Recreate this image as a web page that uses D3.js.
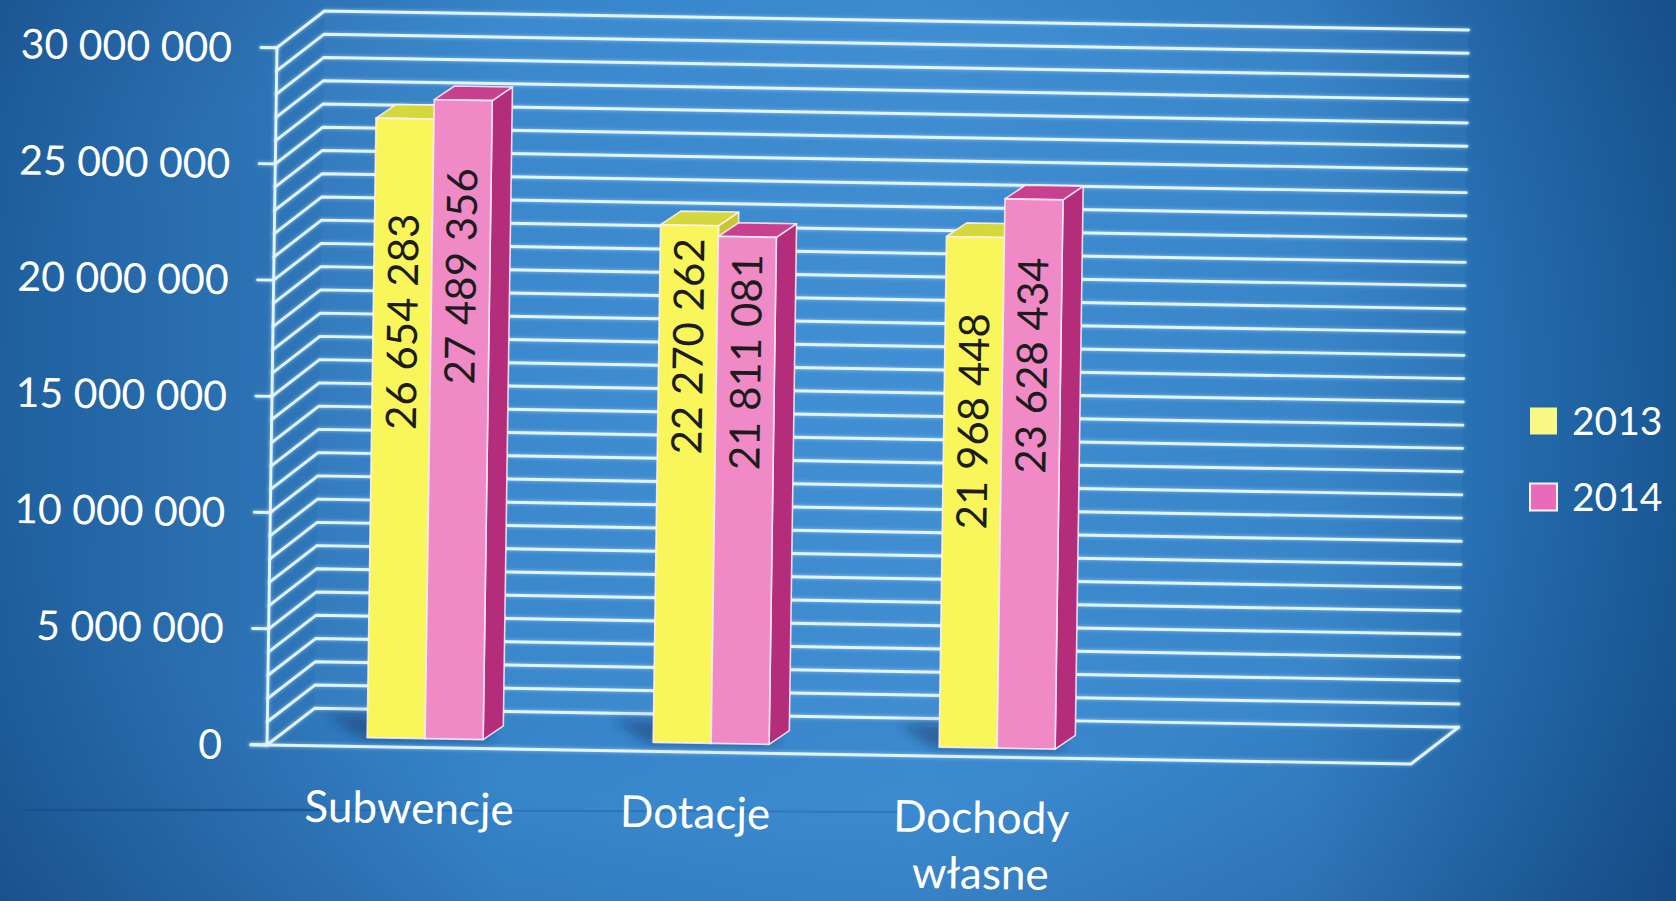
<!DOCTYPE html>
<html>
<head>
<meta charset="utf-8">
<script src="https://cdn.jsdelivr.net/npm/d3@7/dist/d3.min.js"></script>
<style>
  html, body { margin: 0; padding: 0; background: #2a72b4; }
  svg { display: block; }
  text { font-family: Lato, "Open Sans", sans-serif; }
</style>
</head>
<body>
<svg id="chart" width="1676" height="901"></svg>
<script>
// ---------------- DATA ----------------
const categories = ["Subwencje", "Dotacje", "Dochody własne", ""];
const seriesNames = ["2013", "2014"];
const values2013 = [26654283, 22270262, 21968448];
const values2014 = [27489356, 21811081, 23628434];
const yTickValues = [0, 5000000, 10000000, 15000000, 20000000, 25000000, 30000000];

// ---------------- LAYOUT ----------------
const W = 1676, H = 901;
const frontLeft = 267, frontRight = 1411;
const yBottom = 745, yTop = 47.7;
const depth = { dx: 47, dy: -37.5 };        // floor / wall depth
const barFront = { dx: 15, dy: -9 };        // bar front face offset into depth
const barDepth = { dx: 20, dy: -14 };       // bar thickness in depth
const barW = 58;
const labelGap = [[95, 13, 76], [68, 17, 58]]; // text start below bar top (px)
const skewX = 0.0143, skewY = 0.0166;

const colors = {
  y: { front: "#f8f65a", top: "#d4d83c", side: "#c9c634" },
  p: { front: "#f08ac6", top: "#c8408e", side: "#b42d7b" }
};
const gridColor = "#e2f5ff";

const fmt = d3.formatLocale({ decimal: ",", thousands: " ", grouping: [3], currency: ["", ""] }).format(",");

const svg = d3.select("#chart");
const defs = svg.append("defs");

// background
const bg = defs.append("linearGradient").attr("id", "bgH").attr("x1", 0).attr("x2", 1).attr("y1", 0).attr("y2", 0);
[[0, "#1f5f9e"], [0.12, "#2a6fb0"], [0.3, "#3785ca"], [0.55, "#3c8ad0"], [0.78, "#3582c6"], [0.88, "#2770b2"], [1, "#1a5b99"]]
  .forEach(([o, c]) => bg.append("stop").attr("offset", o).attr("stop-color", c));
const rad = defs.append("radialGradient").attr("id", "bgR").attr("cx", "45%").attr("cy", "45%").attr("r", "75%");
[[0, "rgba(80,160,235,0.10)"], [0.6, "rgba(20,60,120,0)"], [1, "rgba(10,40,90,0.30)"]]
  .forEach(([o, c]) => rad.append("stop").attr("offset", o).attr("stop-color", c));
const blur = defs.append("filter").attr("id", "blur").attr("x", "-50%").attr("y", "-50%").attr("width", "200%").attr("height", "200%");
blur.append("feGaussianBlur").attr("stdDeviation", 6);
const glow = defs.append("filter").attr("id", "glow").attr("x", "-5%").attr("y", "-5%").attr("width", "110%").attr("height", "110%");
glow.append("feGaussianBlur").attr("stdDeviation", 1.5);

svg.append("rect").attr("width", W).attr("height", H).attr("fill", "url(#bgH)");
svg.append("rect").attr("width", W).attr("height", H).attr("fill", "url(#bgR)");
// projection artifact line
svg.append("line").attr("x1", 22).attr("x2", 320).attr("y1", 810).attr("y2", 810)
  .attr("stroke", "#1a4f8e").attr("stroke-width", 2.5).attr("opacity", 0.8);
svg.append("line").attr("x1", 320).attr("x2", 900).attr("y1", 810).attr("y2", 812)
  .attr("stroke", "#1a4f8e").attr("stroke-width", 2).attr("opacity", 0.3);

// skewed chart group (photo perspective)
const g = svg.append("g")
  .attr("transform", `matrix(1,${skewY},${-skewX},1,${skewX * yBottom},${-skewY * frontLeft})`);

const x = d3.scaleBand().domain(categories).range([frontLeft, frontRight]).padding(0);
const y = d3.scaleLinear().domain([0, 30000000]).range([yBottom, yTop]);
const gridValues = d3.range(0, 30000001, 1000000);

// back wall fill (slightly lighter)
g.append("path")
  .attr("d", `M${frontLeft + depth.dx},${y(30000000) + depth.dy}H${frontRight + depth.dx}V${yBottom + depth.dy}H${frontLeft + depth.dx}Z`)
  .attr("fill", "rgba(110,185,250,0.08)");

function drawGrid(parent, width, color, filter) {
  const gg = parent.append("g").attr("fill", "none").attr("stroke", color).attr("stroke-width", width)
    .attr("stroke-linejoin", "round").attr("stroke-linecap", "round");
  if (filter) gg.attr("filter", filter);
  gg.selectAll("path.grid").data(gridValues).join("path").attr("class", "grid")
    .attr("d", v => `M${frontLeft},${y(v)}L${frontLeft + depth.dx},${y(v) + depth.dy}H${frontRight + depth.dx}`);
  gg.append("line").attr("x1", frontLeft).attr("x2", frontLeft).attr("y1", y(0)).attr("y2", y(30000000));
  gg.selectAll("line.tick").data(yTickValues).join("line").attr("class", "tick")
    .attr("x1", frontLeft - 16).attr("x2", frontLeft).attr("y1", v => y(v)).attr("y2", v => y(v));
  gg.append("path")
    .attr("d", `M${frontLeft - 16},${y(0)}H${frontRight}L${frontRight + depth.dx},${y(0) + depth.dy}`);
}
drawGrid(g, 5, "rgba(200,235,255,0.35)", "url(#glow)");
drawGrid(g, 2.9, gridColor, null);

// tick labels
g.append("g").selectAll("text").data(yTickValues).join("text")
  .attr("x", 222).attr("y", v => y(v)).attr("dy", "0.36em")
  .attr("text-anchor", "end").attr("fill", "#ffffff").attr("font-size", 41)
  .text(v => fmt(v));

// category labels
const catG = g.append("g");
categories.filter(c => c).forEach(c => {
  const words = c === "Dochody własne" ? ["Dochody", "własne"] : [c];
  const t = catG.append("text").attr("x", x(c) + x.bandwidth() / 2).attr("y", 821)
    .attr("text-anchor", "middle").attr("fill", "#ffffff").attr("font-size", 44);
  words.forEach((w, i) => t.append("tspan").attr("x", x(c) + x.bandwidth() / 2).attr("dy", i ? 56 : 0).text(w));
});

// bars
const series = [values2013, values2014];
const pal = [colors.y, colors.p];
const barsG = g.append("g");
const base = y(0) + barFront.dy;
categories.forEach((c, ci) => {
  if (ci >= values2013.length) return;
  const cx = x(c) + x.bandwidth() / 2 + barFront.dx;
  // floor shadow
  barsG.append("path")
    .attr("d", `M${cx - barW - 6},${base}L${cx - barW - 40},${base - 22}L${cx + barW},${base - 22}L${cx + barW + 10},${base}Z`)
    .attr("fill", "rgba(15,45,95,0.45)").attr("filter", "url(#blur)");
  series.forEach((vals, si) => {
    const v = vals[ci];
    const x0 = cx - barW + si * barW, x1 = x0 + barW;
    const top = base - (y(0) - y(v));
    const col = pal[si];
    const bg2 = barsG.append("g").attr("stroke", "rgba(255,240,250,0.85)").attr("stroke-width", 1.6).attr("stroke-linejoin", "round");
    bg2.append("path").attr("fill", col.side)
      .attr("d", `M${x1},${base}L${x1 + barDepth.dx},${base + barDepth.dy}L${x1 + barDepth.dx},${top + barDepth.dy}L${x1},${top}Z`);
    bg2.append("path").attr("fill", col.top)
      .attr("d", `M${x0},${top}L${x0 + barDepth.dx},${top + barDepth.dy}L${x1 + barDepth.dx},${top + barDepth.dy}L${x1},${top}Z`);
    bg2.append("rect").attr("fill", col.front).attr("x", x0).attr("y", top).attr("width", barW).attr("height", base - top);
  });
});
// data labels
categories.forEach((c, ci) => {
  if (ci >= values2013.length) return;
  const cx = x(c) + x.bandwidth() / 2 + barFront.dx;
  series.forEach((vals, si) => {
    const v = vals[ci];
    const xc = cx - barW + si * barW + barW / 2;
    const top = base - (y(0) - y(v));
    const ty = top + labelGap[si][ci];
    barsG.append("text").attr("transform", `translate(${xc},${ty}) rotate(-90)`)
      .attr("text-anchor", "end").attr("dy", "0.36em")
      .attr("font-size", 42).attr("fill", "#1c1c1c").text(fmt(v));
  });
});

// legend (screen space)
const legend = svg.append("g");
const legendItems = [{ name: seriesNames[0], fill: "#fbf985", stroke: "none", y: 421 }, { name: seriesNames[1], fill: "#e86ab8", stroke: "#f4f4ff", y: 497 }];
legendItems.forEach(d => {
  legend.append("rect").attr("x", 1530).attr("y", d.y - 13.5).attr("width", 27).attr("height", 27)
    .attr("fill", d.fill).attr("stroke", d.stroke).attr("stroke-width", 2);
  legend.append("text").attr("x", 1572).attr("y", d.y).attr("dy", "0.36em")
    .attr("fill", "#ffffff").attr("font-size", 39).text(d.name);
});
</script>
</body>
</html>
